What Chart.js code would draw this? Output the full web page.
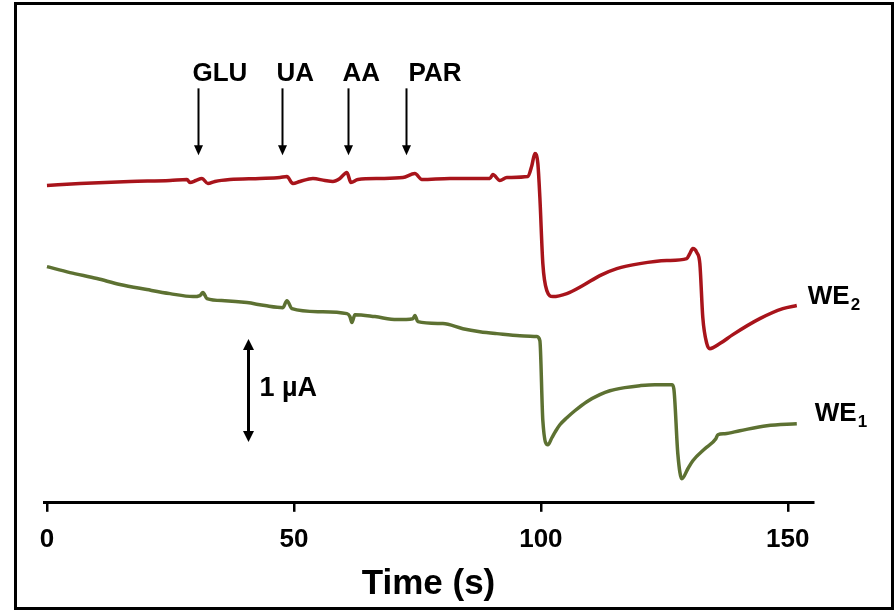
<!DOCTYPE html>
<html><head><meta charset="utf-8">
<script src="https://cdn.jsdelivr.net/npm/chart.js@4.4.0/dist/chart.umd.min.js"></script>
<style>html,body{margin:0;padding:0;background:#fff;}canvas{display:block;}</style>
</head><body>
<canvas id="c" width="896" height="611"></canvas>
<script>
// ---- data (time in s, current in µA, relative) ----
const xTicks = [0, 50, 100, 150];

const we2Time = [0, 6.7, 16.8, 24.9, 28.34, 28.95, 30.16, 31.38, 32.59, 34.01, 37.04, 43.12, 47.17, 48.58, 49.8, 51.21, 53.85, 56.28, 57.89, 59.31, 60.73, 61.54, 62.96, 67.41, 72.06, 74.49, 75.91, 81.58, 89.68, 90.28, 91.7, 93.12, 97.37, 98.18, 98.79, 99.39, 99.8, 100.4, 101.21, 102.43, 105.26, 108.5, 111.94, 115.38, 120.04, 125.51, 129.55, 130.16, 130.77, 131.58, 132.19, 132.79, 133.6, 134.21, 136.23, 138.87, 144.33, 148.99, 151.82];
const we2Current = [3.078, 3.097, 3.117, 3.126, 3.136, 3.107, 3.126, 3.146, 3.097, 3.117, 3.136, 3.146, 3.155, 3.165, 3.097, 3.117, 3.146, 3.126, 3.117, 3.146, 3.204, 3.107, 3.136, 3.146, 3.155, 3.194, 3.136, 3.146, 3.146, 3.184, 3.126, 3.155, 3.165, 3.272, 3.388, 3.291, 2.961, 2.32, 2.058, 2.0, 2.029, 2.107, 2.204, 2.272, 2.32, 2.35, 2.369, 2.417, 2.466, 2.427, 2.32, 1.796, 1.544, 1.495, 1.544, 1.631, 1.786, 1.883, 1.913];

const we1Time = [0, 4.66, 10.12, 14.78, 20.24, 24.9, 29.55, 30.97, 31.58, 32.39, 36.03, 40.49, 44.13, 47.77, 48.58, 49.6, 55.26, 60.73, 61.34, 61.74, 62.35, 66.4, 70.85, 74.09, 74.49, 75.1, 80.16, 84.21, 87.65, 91.09, 95.75, 99.19, 99.8, 100.4, 101.42, 102.23, 103.04, 103.85, 105.26, 106.88, 109.31, 111.94, 113.97, 117.0, 120.04, 123.08, 126.52, 126.92, 127.73, 128.54, 129.76, 130.77, 133.2, 135.43, 135.83, 137.25, 140.28, 145.75, 151.82];
const we1Current = [2.291, 2.233, 2.175, 2.117, 2.068, 2.029, 2.0, 2.01, 2.039, 1.981, 1.961, 1.942, 1.913, 1.893, 1.961, 1.883, 1.854, 1.835, 1.806, 1.748, 1.825, 1.806, 1.777, 1.786, 1.816, 1.757, 1.738, 1.689, 1.66, 1.641, 1.621, 1.612, 1.573, 0.796, 0.563, 0.631, 0.699, 0.757, 0.825, 0.893, 0.981, 1.049, 1.087, 1.117, 1.136, 1.146, 1.146, 1.107, 0.476, 0.233, 0.33, 0.408, 0.524, 0.621, 0.66, 0.67, 0.699, 0.748, 0.767];

const markerNames = ['GLU', 'UA', 'AA', 'PAR'];
const markerTimes = [30.6, 47.6, 60.9, 72.7];
const seriesNames = ['WE', 'WE'];
const seriesSubs = ['2', '1'];
const scaleBarValue = 1; // µA
const scaleBarTime = 40.7;
const scaleBarBottom = 0.59;

// ---- styling ----
const RED = '#a8141b';
const GREEN = '#5d7132';
const FONT = 'Liberation Sans, Arial, Helvetica, sans-serif';

const toPts = (t, v) => t.map((x, i) => ({x: x, y: v[i]}));

const annot = {
  id: 'annot',
  afterDraw(chart) {
    const {ctx, scales: {x, y}} = chart;
    ctx.save();
    // frame
    ctx.strokeStyle = '#000';
    ctx.lineWidth = 3;
    ctx.strokeRect(15.5, 3.5, 877, 605);

    ctx.fillStyle = '#000';
    ctx.strokeStyle = '#000';
    // marker arrows
    const dx = [-6, -6, -6, 2];
    ctx.font = 'bold 26px ' + FONT;
    ctx.textBaseline = 'alphabetic';
    ctx.textAlign = 'left';
    markerNames.forEach((name, i) => {
      const px = Math.round(x.getPixelForValue(markerTimes[i])) + 0.5;
      const top = y.getPixelForValue(4.02);
      const tip = y.getPixelForValue(3.37);
      ctx.lineWidth = 2;
      ctx.beginPath(); ctx.moveTo(px, top); ctx.lineTo(px, tip - 8); ctx.stroke();
      ctx.beginPath(); ctx.moveTo(px - 4.5, tip - 10); ctx.lineTo(px + 4.5, tip - 10); ctx.lineTo(px, tip); ctx.closePath(); ctx.fill();
      ctx.fillText(name, px + dx[i], y.getPixelForValue(4.19) + 10);
    });

    // scale bar
    const sx = Math.round(x.getPixelForValue(scaleBarTime)) + 0.5;
    const sTop = y.getPixelForValue(scaleBarBottom + scaleBarValue);
    const sBot = y.getPixelForValue(scaleBarBottom);
    ctx.lineWidth = 3;
    ctx.beginPath(); ctx.moveTo(sx, sTop + 8); ctx.lineTo(sx, sBot - 8); ctx.stroke();
    ctx.beginPath(); ctx.moveTo(sx - 5.5, sTop + 11); ctx.lineTo(sx + 5.5, sTop + 11); ctx.lineTo(sx, sTop); ctx.closePath(); ctx.fill();
    ctx.beginPath(); ctx.moveTo(sx - 5.5, sBot - 11); ctx.lineTo(sx + 5.5, sBot - 11); ctx.lineTo(sx, sBot); ctx.closePath(); ctx.fill();
    ctx.font = 'bold 27px ' + FONT;
    ctx.fillText(scaleBarValue + ' µA', sx + 11, (sTop + sBot) / 2 + 6);

    // series labels
    const ends = [
      {t: we2Time[we2Time.length - 1], v: we2Current[we2Current.length - 1], ox: 11, oy: -2},
      {t: we1Time[we1Time.length - 1], v: we1Current[we1Current.length - 1], ox: 18, oy: -3}
    ];
    ends.forEach((e, i) => {
      const lx = x.getPixelForValue(e.t) + e.ox;
      const ly = y.getPixelForValue(e.v) + e.oy;
      ctx.font = 'bold 26px ' + FONT;
      ctx.fillText(seriesNames[i], lx, ly);
      const w = ctx.measureText(seriesNames[i]).width;
      ctx.font = 'bold 17px ' + FONT;
      ctx.fillText(seriesSubs[i], lx + w + 1, ly + 6);
    });
    ctx.restore();
  }
};

new Chart(document.getElementById('c'), {
  type: 'line',
  data: {
    datasets: [
      {label: 'WE2', data: toPts(we2Time, we2Current), borderColor: RED, borderWidth: 3.5, pointRadius: 0, cubicInterpolationMode: 'monotone', fill: false},
      {label: 'WE1', data: toPts(we1Time, we1Current), borderColor: GREEN, borderWidth: 3.5, pointRadius: 0, cubicInterpolationMode: 'monotone', fill: false}
    ]
  },
  options: {
    responsive: false,
    animation: false,
    devicePixelRatio: 1,
    layout: {padding: {left: 44, right: 83, top: 10, bottom: 9}},
    plugins: {legend: {display: false}, tooltip: {enabled: false}},
    scales: {
      x: {
        type: 'linear', min: -0.6, max: 155.1,
        afterBuildTicks: (s) => { s.ticks = xTicks.map(v => ({value: v})); },
        grid: {display: true, drawOnChartArea: false, drawTicks: true, tickLength: 9, color: '#000', lineWidth: 2.5},
        border: {display: true, color: '#000', width: 3},
        ticks: {color: '#000', padding: 12, maxRotation: 0, autoSkip: false, font: {family: FONT, size: 26, weight: 'bold'}},
        title: {display: true, text: 'Time (s)', color: '#000', padding: {top: 0, bottom: 0}, font: {family: FONT, size: 35, weight: 'bold', lineHeight: 1.0}}
      },
      y: {
        type: 'linear', min: 0, max: 4.78, display: false
      }
    }
  },
  plugins: [annot]
});
</script>
</body></html>
